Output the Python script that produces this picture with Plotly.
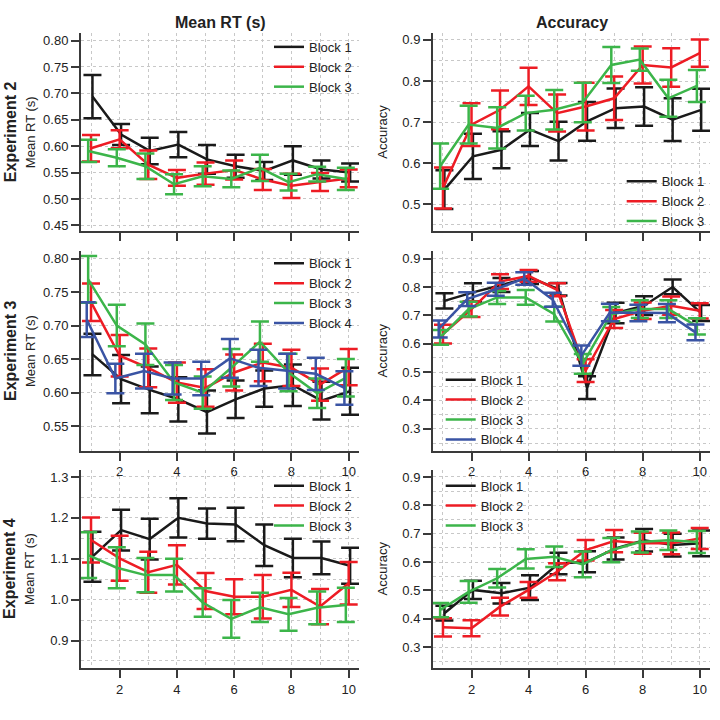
import plotly.graph_objects as go

TRIALS = list(range(1, 11))
BLOCK_NAMES = ["Block 1", "Block 2", "Block 3", "Block 4"]

# Experiment 2 - Mean RT (s)
EXP2_RT_MEAN = [
    [0.694, 0.622, 0.591, 0.603, 0.575, 0.562, 0.553, 0.573, 0.556, 0.550],
    [0.596, 0.613, 0.565, 0.540, 0.548, 0.555, 0.537, 0.525, 0.532, 0.539],
    [0.591, 0.578, 0.562, 0.528, 0.543, 0.538, 0.559, 0.532, 0.547, 0.538],
]
EXP2_RT_ERR = [
    [0.041, 0.020, 0.025, 0.024, 0.027, 0.022, 0.017, 0.027, 0.017, 0.017],
    [0.025, 0.017, 0.027, 0.015, 0.021, 0.018, 0.020, 0.023, 0.017, 0.017],
    [0.021, 0.016, 0.024, 0.019, 0.019, 0.016, 0.025, 0.016, 0.014, 0.021],
]
# Experiment 2 - Accuracy
EXP2_ACC_MEAN = [
    [0.536, 0.617, 0.633, 0.682, 0.654, 0.702, 0.734, 0.738, 0.706, 0.730],
    [0.540, 0.694, 0.730, 0.787, 0.722, 0.738, 0.758, 0.839, 0.833, 0.868],
    [0.593, 0.694, 0.686, 0.722, 0.730, 0.748, 0.839, 0.852, 0.758, 0.788],
]
EXP2_ACC_ERR = [
    [0.047, 0.055, 0.045, 0.040, 0.047, 0.047, 0.048, 0.047, 0.052, 0.051],
    [0.050, 0.052, 0.047, 0.045, 0.045, 0.058, 0.053, 0.045, 0.047, 0.033],
    [0.055, 0.046, 0.050, 0.042, 0.048, 0.048, 0.044, 0.027, 0.045, 0.039],
]
# Experiment 3 - Mean RT (s)
EXP3_RT_MEAN = [
    [0.657, 0.620, 0.604, 0.590, 0.571, 0.590, 0.606, 0.611, 0.588, 0.602],
    [0.735, 0.655, 0.637, 0.615, 0.607, 0.630, 0.645, 0.637, 0.612, 0.638],
    [0.769, 0.700, 0.672, 0.615, 0.600, 0.637, 0.676, 0.630, 0.599, 0.622],
    [0.709, 0.621, 0.632, 0.621, 0.621, 0.651, 0.637, 0.632, 0.628, 0.607],
]
EXP3_RT_ERR = [
    [0.031, 0.036, 0.035, 0.033, 0.032, 0.028, 0.027, 0.031, 0.028, 0.035],
    [0.028, 0.031, 0.029, 0.030, 0.028, 0.027, 0.028, 0.027, 0.024, 0.027],
    [0.035, 0.031, 0.031, 0.026, 0.024, 0.028, 0.030, 0.028, 0.022, 0.028],
    [0.026, 0.022, 0.026, 0.024, 0.025, 0.029, 0.027, 0.026, 0.024, 0.025],
]
# Experiment 3 - Accuracy
EXP3_ACC_MEAN = [
    [0.751, 0.781, 0.807, 0.833, 0.792, 0.445, 0.708, 0.734, 0.800, 0.708],
    [0.634, 0.722, 0.819, 0.839, 0.790, 0.505, 0.687, 0.716, 0.734, 0.716],
    [0.622, 0.722, 0.763, 0.763, 0.704, 0.529, 0.704, 0.722, 0.722, 0.661],
    [0.652, 0.757, 0.792, 0.830, 0.755, 0.558, 0.710, 0.708, 0.708, 0.640],
]
EXP3_ACC_ERR = [
    [0.027, 0.032, 0.025, 0.023, 0.022, 0.040, 0.036, 0.033, 0.026, 0.028],
    [0.033, 0.028, 0.026, 0.021, 0.023, 0.040, 0.032, 0.029, 0.032, 0.027],
    [0.026, 0.026, 0.023, 0.026, 0.026, 0.035, 0.025, 0.031, 0.031, 0.029],
    [0.030, 0.024, 0.023, 0.022, 0.025, 0.036, 0.031, 0.029, 0.032, 0.028],
]
# Experiment 4 - Mean RT (s)
EXP4_RT_MEAN = [
    [1.105, 1.170, 1.148, 1.200, 1.186, 1.184, 1.133, 1.102, 1.102, 1.083],
    [1.146, 1.101, 1.067, 1.085, 1.021, 1.007, 1.007, 1.024, 0.983, 1.040],
    [1.109, 1.078, 1.060, 1.060, 0.993, 0.953, 0.981, 0.964, 0.980, 0.987],
]
EXP4_RT_ERR = [
    [0.061, 0.050, 0.050, 0.048, 0.037, 0.041, 0.051, 0.047, 0.040, 0.044],
    [0.055, 0.055, 0.050, 0.048, 0.044, 0.043, 0.053, 0.042, 0.043, 0.052],
    [0.056, 0.050, 0.042, 0.040, 0.035, 0.046, 0.036, 0.040, 0.040, 0.042],
]
# Experiment 4 - Accuracy
EXP4_ACC_MEAN = [
    [0.420, 0.502, 0.490, 0.510, 0.595, 0.601, 0.648, 0.677, 0.660, 0.666],
    [0.370, 0.367, 0.443, 0.502, 0.566, 0.642, 0.674, 0.666, 0.666, 0.683],
    [0.431, 0.495, 0.543, 0.611, 0.619, 0.592, 0.642, 0.671, 0.677, 0.671],
]
EXP4_ACC_ERR = [
    [0.026, 0.032, 0.036, 0.044, 0.038, 0.037, 0.039, 0.040, 0.040, 0.045],
    [0.032, 0.028, 0.031, 0.028, 0.030, 0.036, 0.039, 0.037, 0.038, 0.037],
    [0.025, 0.038, 0.033, 0.034, 0.036, 0.045, 0.043, 0.037, 0.034, 0.039],
]

ROW_TITLES = ["Experiment 2", "Experiment 3", "Experiment 4"]
COL_TITLES = ["Mean RT (s)", "Accuracy"]
Y_TITLES = ["Mean RT (s)", "Accuracy"]

# ---------------- style ----------------
COLORS = ["#1a1a1a", "#ed1c24", "#3cb54a", "#3a54a4"]
JITTER = [0.05, 0.0, -0.1, -0.15]
FONT = "Liberation Sans, Arial, Helvetica, sans-serif"
AXIS_COLOR = "#3a3a3a"
GRID_COLOR = "#c8c8c8"
TEXT_COLOR = "#222222"
W = H = 720.0

def px_x(p):
    return p / W

def px_y(p):
    return 1 - p / H

COL_X = [(81, 359), (433, 710)]
ROW_Y = [(33, 232), (252, 452), (471, 670)]
X_RANGE = [0.65, 10.36]

panels = [
    dict(r=0, c=0, m=EXP2_RT_MEAN, e=EXP2_RT_ERR, yr=[0.4387, 0.8145], dt=0.05, t0=0.45, fmt=".2f", minor=None, leg=(269, 32, "top")),
    dict(r=0, c=1, m=EXP2_ACC_MEAN, e=EXP2_ACC_ERR, yr=[0.4345, 0.917], dt=0.1, t0=0.5, fmt=".1f", minor=0.05, leg=(621.7, 237, "bottom")),
    dict(r=1, c=0, m=EXP3_RT_MEAN, e=EXP3_RT_ERR, yr=[0.5132, 0.8109], dt=0.05, t0=0.55, fmt=".2f", minor=None, leg=(269, 249, "top")),
    dict(r=1, c=1, m=EXP3_ACC_MEAN, e=EXP3_ACC_ERR, yr=[0.2227, 0.9257], dt=0.1, t0=0.3, fmt=".1f", minor=0.05, leg=(440.7, 456, "bottom")),
    dict(r=2, c=0, m=EXP4_RT_MEAN, e=EXP4_RT_ERR, yr=[0.8324, 1.3178], dt=0.1, t0=0.9, fmt=".1f", minor=0.05, leg=(269, 472, "top")),
    dict(r=2, c=1, m=EXP4_ACC_MEAN, e=EXP4_ACC_ERR, yr=[0.2262, 0.9257], dt=0.1, t0=0.3, fmt=".1f", minor=0.05, leg=(440.7, 472, "top")),
]

fig = go.Figure()
layout = dict(
    width=720, height=720,
    margin=dict(l=0, r=0, t=0, b=0),
    paper_bgcolor="white", plot_bgcolor="white",
    font=dict(family=FONT, size=13, color=TEXT_COLOR),
    showlegend=True,
)

for i, p in enumerate(panels):
    n = i + 1
    xa = "xaxis" if n == 1 else f"xaxis{n}"
    ya = "yaxis" if n == 1 else f"yaxis{n}"
    xref = "x" if n == 1 else f"x{n}"
    yref = "y" if n == 1 else f"y{n}"
    leg = "legend" if n == 1 else f"legend{n}"
    x0, x1 = COL_X[p["c"]]
    y0, y1 = ROW_Y[p["r"]]
    layout[xa] = dict(
        domain=[px_x(x0), px_x(x1)], anchor=yref, range=X_RANGE,
        tickmode="linear", tick0=0, dtick=2,
        showline=True, linecolor=AXIS_COLOR, linewidth=2,
        ticks="outside", ticklen=8, tickwidth=2, tickcolor=AXIS_COLOR,
        showticklabels=(p["r"] > 0),
        tickfont=dict(size=13, color=TEXT_COLOR),
        showgrid=True, gridcolor=GRID_COLOR, gridwidth=1, griddash="dot",
        minor=dict(dtick=1, tick0=0, showgrid=True, gridcolor=GRID_COLOR, gridwidth=1, griddash="dot", ticks=""),
        zeroline=False,
    )
    ydict = dict(
        domain=[px_y(y1), px_y(y0)], anchor=xref, range=p["yr"],
        tickmode="linear", tick0=p["t0"], dtick=p["dt"], tickformat=p["fmt"],
        showline=True, linecolor=AXIS_COLOR, linewidth=2,
        ticks="outside", ticklen=8, tickwidth=2, tickcolor=AXIS_COLOR,
        tickfont=dict(size=13, color=TEXT_COLOR),
        showgrid=True, gridcolor=GRID_COLOR, gridwidth=1, griddash="dot",
        zeroline=False,
    )
    if p["minor"]:
        ydict["minor"] = dict(dtick=p["minor"], tick0=p["t0"], showgrid=True, gridcolor=GRID_COLOR,
                              gridwidth=1, griddash="dot", ticks="")
    layout[ya] = ydict

    lx, ly, anc = p["leg"]
    layout[leg] = dict(
        x=px_x(lx), y=px_y(ly), xanchor="left", yanchor=anc,
        xref="paper", yref="paper",
        bgcolor="rgba(0,0,0,0)", borderwidth=0,
        font=dict(size=13, color=TEXT_COLOR, family=FONT),
        tracegroupgap=0, itemclick=False, itemdoubleclick=False,
    )

    for b, (mean, err) in enumerate(zip(p["m"], p["e"])):
        fig.add_trace(go.Scatter(
            x=[t + JITTER[b] for t in TRIALS], y=mean,
            mode="lines", name=BLOCK_NAMES[b],
            line=dict(color=COLORS[b], width=2.5),
            error_y=dict(type="data", array=err, visible=True, color=COLORS[b], thickness=2.5, width=9),
            xaxis=xref, yaxis=yref, legend=leg,
            hoverinfo="skip",
        ))

annotations = []
for c, title in enumerate(COL_TITLES):
    x0, x1 = COL_X[c]
    annotations.append(dict(text=f"<b>{title}</b>", x=px_x((x0 + x1) / 2), y=px_y(23),
                            xref="paper", yref="paper", showarrow=False,
                            xanchor="center", yanchor="middle",
                            font=dict(size=16, color=TEXT_COLOR, family=FONT)))
for r, title in enumerate(ROW_TITLES):
    y0, y1 = ROW_Y[r]
    annotations.append(dict(text=f"<b>{title}</b>", x=px_x(10), y=px_y((y0 + y1) / 2),
                            xref="paper", yref="paper", showarrow=False, textangle=-90,
                            xanchor="center", yanchor="middle",
                            font=dict(size=16, color=TEXT_COLOR, family=FONT)))
    for c, ytitle in enumerate(Y_TITLES):
        xpos = 30 if c == 0 else 382.5
        annotations.append(dict(text=ytitle, x=px_x(xpos), y=px_y((y0 + y1) / 2),
                                xref="paper", yref="paper", showarrow=False, textangle=-90,
                                xanchor="center", yanchor="middle",
                                font=dict(size=13, color=TEXT_COLOR, family=FONT)))
layout["annotations"] = annotations

fig.update_layout(**layout)
fig.write_html("out.html", config={"displayModeBar": False},
               post_script="document.body.style.margin='0';")
